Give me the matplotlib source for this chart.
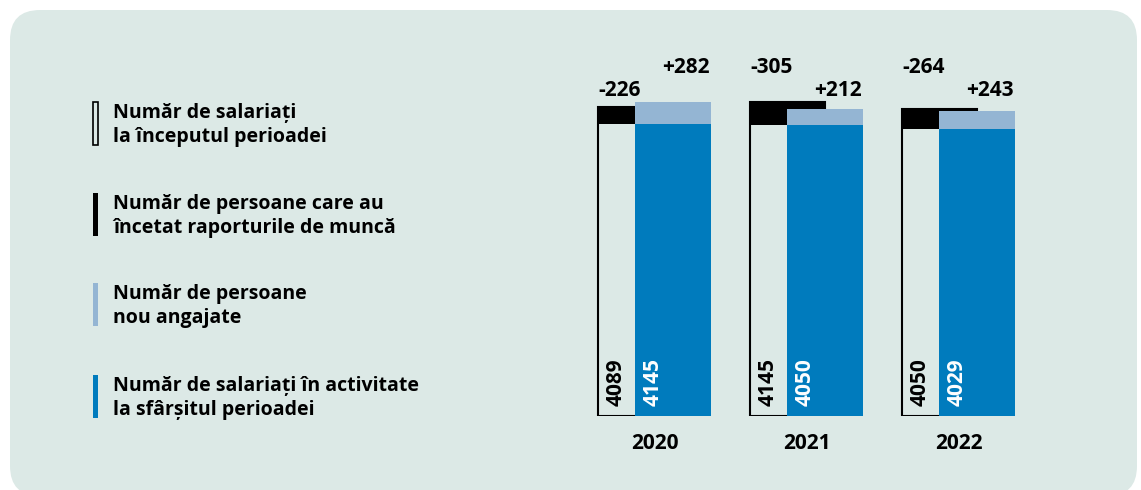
import numpy as np
import matplotlib
matplotlib.use("Agg")
import matplotlib.pyplot as plt
from matplotlib.patches import FancyBboxPatch, Rectangle
from matplotlib import font_manager

# pick a family that really has a bold face
FAM = "DejaVu Sans"
for cand in ["Open Sans", "Lato", "Noto Sans", "Roboto"]:
    try:
        p = font_manager.findfont(font_manager.FontProperties(family=cand, weight="bold"),
                                  fallback_to_default=False)
        if "bold" in p.lower():
            FAM = cand
            break
    except Exception:
        pass
plt.rcParams['font.family'] = [FAM, 'DejaVu Sans']
plt.rcParams['font.weight'] = 'bold'

# ---- data ----
years = ["2020", "2021", "2022"]
start_counts = [4089, 4145, 4050]      # salariati la inceputul perioadei
leavers = [226, 305, 264]              # persoane care au incetat raporturile
hires = [282, 212, 243]                # persoane nou angajate
end_counts = [4145, 4050, 4029]        # salariati la sfarsitul perioadei
legend_labels = [
    "Număr de salariați\nla începutul perioadei",
    "Număr de persoane care au\nîncetat raporturile de muncă",
    "Număr de persoane\nnou angajate",
    "Număr de salariați în activitate\nla sfârșitul perioadei",
]

BG = "#dce9e6"
BLACK = "#000000"
LIGHT = "#94b5d3"
BLUE = "#007bbd"

W, H = 1141, 490
fig = plt.figure(figsize=(W / 100, H / 100), dpi=100)
fig.patch.set_facecolor("white")


def fx(px):
    return px / W


def fy(py):
    return 1 - py / H


# rounded background panel
bg = FancyBboxPatch((0.10, -0.06), 11.27, 4.86,
                    boxstyle="round,pad=0,rounding_size=0.3",
                    transform=fig.dpi_scale_trans, fc=BG, ec="none", zorder=-5)
fig.add_artist(bg)

# ---- bars ----
ax = fig.add_axes([fx(560), 74 / H, 500 / W, 386 / H])
ax.patch.set_alpha(0)
ax.set_xlim(-0.622, 2.668)
ax.set_ylim(0, 5100)
ax.axis("off")

x = np.arange(len(years))
start = np.array(start_counts)
lv = np.array(leavers)
hr = np.array(hires)
end = np.array(end_counts)
remain = start - lv

off = 0.123
sx = x - off
ex = x + off
ax.bar(sx, start, width=0.493, color=BG, edgecolor=BLACK, linewidth=1.5, zorder=2)
ax.bar(sx, lv, bottom=remain, width=0.493, color=BLACK, zorder=3)
ax.bar(ex, remain, width=0.5, color=BLUE, zorder=4)
ax.bar(ex, end - remain, bottom=remain, width=0.5, color=LIGHT, zorder=4)

ref_top = max(start.max(), end.max())
for i in range(len(years)):
    # inside rotated labels
    ax.annotate(f"{start[i]}", xy=(sx[i] - 0.247, 0), xytext=(13, 7),
                textcoords="offset points", rotation=90, ha="center",
                va="bottom", fontsize=15, fontweight="bold", color=BLACK, zorder=6)
    ax.annotate(f"{end[i]}", xy=(ex[i] - 0.25, 0), xytext=(13, 7),
                textcoords="offset points", rotation=90, ha="center",
                va="bottom", fontsize=15, fontweight="bold", color="white", zorder=6)
    # year labels
    ax.annotate(years[i], xy=(x[i], 0), xytext=(0, -19.8),
                textcoords="offset points", ha="center", va="center",
                fontsize=15, fontweight="bold", color=BLACK)
    # change labels: the higher top gets the upper row
    black_higher = start[i] >= end[i]
    hi_row, lo_row = 25.2, 8.7
    ax.annotate(f"-{lv[i]}", xy=(sx[i] - 0.2465, ref_top),
                xytext=(0, hi_row if black_higher else lo_row),
                textcoords="offset points", ha="left", va="center",
                fontsize=15, fontweight="bold", color=BLACK)
    ax.annotate(f"+{hr[i]}", xy=(ex[i] + 0.25, ref_top),
                xytext=(-1, lo_row if black_higher else hi_row),
                textcoords="offset points", ha="right", va="center",
                fontsize=15, fontweight="bold", color=BLACK)

# ---- legend ----
styles = [
    dict(fc=BG, ec=BLACK, lw=1.2),
    dict(fc=BLACK, ec="none"),
    dict(fc=LIGHT, ec="none"),
    dict(fc=BLUE, ec="none"),
]
base_lines = [118, 209, 299, 391]
for lab, st, b in zip(legend_labels, styles, base_lines):
    top = b - 16
    rect = Rectangle((fx(92.5), fy(top + 43)), 5.5 / W, 43 / H,
                     transform=fig.transFigure, **st)
    fig.add_artist(rect)
    for j, line in enumerate(lab.split("\n")):
        fig.text(fx(113), fy(b + 24 * j), line, ha="left", va="baseline",
                 fontsize=14, fontweight="bold", color=BLACK)

fig.savefig("out.png", dpi=100, facecolor="white")
